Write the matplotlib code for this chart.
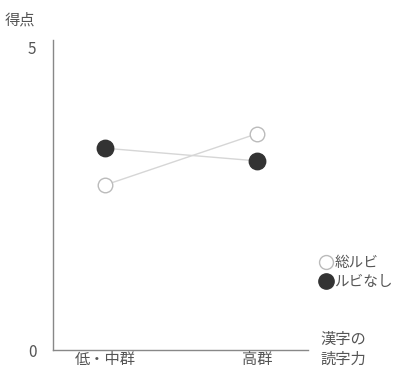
import matplotlib.pyplot as plt
from matplotlib.lines import Line2D

plt.rcParams['font.family'] = ['Noto Sans CJK JP', 'DejaVu Sans']

# data
groups = ["低・中群", "高群"]
so_rubi = [2.73, 3.58]      # 総ルビ (hollow)
rubi_nashi = [3.34, 3.13]   # ルビなし (filled)

text_col = "#555555"
dark = "#333333"

fig = plt.figure(figsize=(4.14, 3.71), dpi=100)
ax = fig.add_axes([0.128, 0.0566, 0.616, 0.8354])

x = list(range(len(groups)))
ax.plot(x, so_rubi, color="#d6d6d6", lw=1.0, zorder=1)
ax.plot(x, rubi_nashi, color="#d6d6d6", lw=1.0, zorder=1)
ax.scatter(x, so_rubi, s=110, facecolor="white", edgecolor="#bbbbbb",
           linewidth=1.0, zorder=3)
ax.scatter(x, rubi_nashi, s=140, facecolor=dark, edgecolor=dark, zorder=3)

ax.set_xlim(-0.342, 1.336)
ax.set_ylim(0, 5.13)
ax.set_xticks(x)
ax.set_xticklabels(groups, fontsize=11, color=text_col)
ax.set_yticks([0, 5])
ax.set_yticklabels(["0", "5"], fontsize=11, color=text_col)
ax.tick_params(axis="x", length=0, pad=1)
ax.tick_params(axis="y", length=0, pad=12)
for side in ("top", "right"):
    ax.spines[side].set_visible(False)
for side in ("left", "bottom"):
    ax.spines[side].set_color("#888888")
    ax.spines[side].set_linewidth(1.0)

fig.text(0.012, 0.945, "得点", fontsize=11, color=text_col, va="center")
fig.text(0.775, 0.058, "漢字の\n読字力", fontsize=11, color=text_col,
         va="center", linespacing=1.25)

handles = [
    Line2D([], [], marker="o", ls="", markersize=10, markerfacecolor="white",
           markeredgecolor="#bbbbbb"),
    Line2D([], [], marker="o", ls="", markersize=11, markerfacecolor=dark,
           markeredgecolor=dark),
]
leg = fig.legend(handles, ["総ルビ", "ルビなし"], loc="upper left",
                 bbox_to_anchor=(0.755, 0.325), frameon=False, fontsize=10.5,
                 handletextpad=0.1, handlelength=1.0, labelspacing=0.3,
                 borderaxespad=0)
for t in leg.get_texts():
    t.set_color(text_col)

fig.savefig("out.png", dpi=100)
